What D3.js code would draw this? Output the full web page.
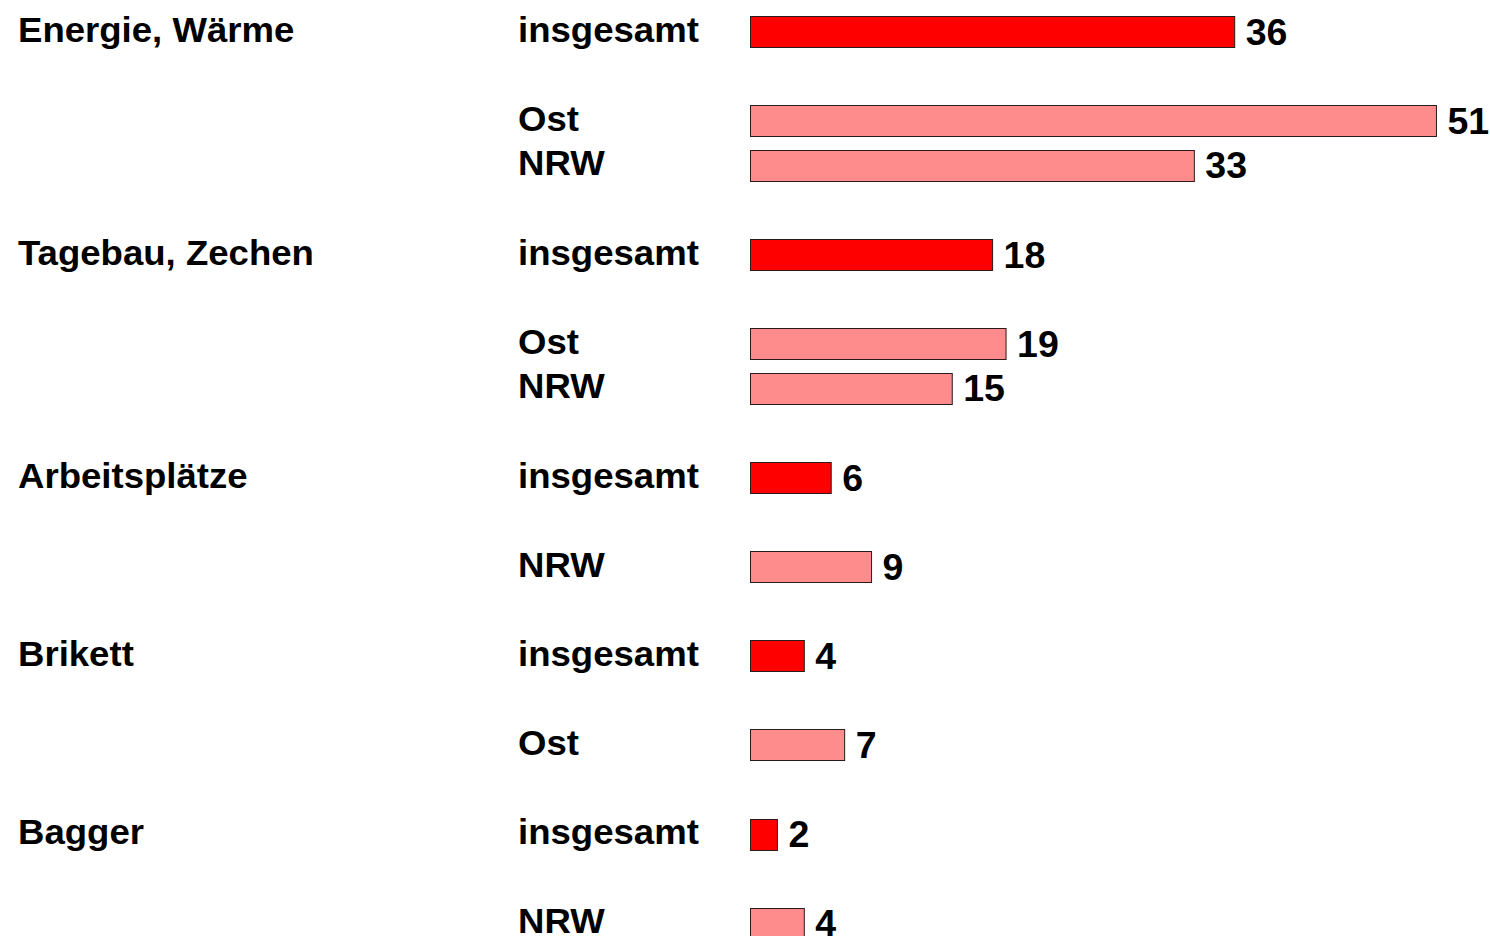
<!DOCTYPE html>
<html>
<head>
<meta charset="utf-8">
<script src="https://cdn.jsdelivr.net/npm/d3@7"></script>
<style>
  html, body { margin: 0; padding: 0; background: #ffffff; overflow: hidden; }
  svg { display: block; }
  text { font-family: "Liberation Sans", Arial, Helvetica, sans-serif; font-weight: bold; fill: #000; }
</style>
</head>
<body>
<script>
// ---- data ----
const categories = ["Energie, Wärme", "Tagebau, Zechen", "Arbeitsplätze", "Brikett", "Bagger"];
const totalLabel = "insgesamt";
const totals = [36, 18, 6, 4, 2];
const regionNames = [["Ost", "NRW"], ["Ost", "NRW"], ["NRW"], ["Ost"], ["NRW"]];
const regionValues = [[51, 33], [19, 15], [9], [7], [4]];

// ---- build rows (slot order: total, blank, regions..., blank) ----
const rows = [];
let slot = 0;
categories.forEach((cat, i) => {
  rows.push({ cat, group: totalLabel, value: totals[i], total: true, slot });
  slot += 2;
  regionNames[i].forEach((r, j) => {
    rows.push({ cat: null, group: r, value: regionValues[i][j], total: false, slot });
    slot += 1;
  });
  slot += 1;
});
const nSlots = slot - 1;

const W = 1490, H = 936;
const svg = d3.select("body").append("svg").attr("width", W).attr("height", H);

const x = d3.scaleLinear().domain([0, 55]).range([750.5, 750.5 + 55 * 13.45]);
const y = d3.scaleBand().domain(d3.range(nSlots)).range([16, 939]).paddingInner(0.3).paddingOuter(0);

const labelSize = 35, labelStretch = 1.045, valueSize = 37.5;

// bars
svg.selectAll("rect.bar").data(rows).join("rect")
  .attr("class", "bar")
  .attr("x", x(0))
  .attr("y", d => Math.round(y(d.slot)) + 0.5)
  .attr("width", d => x(d.value) - x(0))
  .attr("height", Math.round(y.bandwidth()))
  .attr("fill", d => d.total ? "#ff0000" : "#ff8c8c")
  .attr("stroke", "#2a1a1a")
  .attr("stroke-width", 1);

// category labels
svg.selectAll("text.cat").data(rows.filter(d => d.cat)).join("text")
  .attr("class", "cat")
  .attr("transform", d => `translate(18,${y(d.slot) + y.bandwidth() / 2 + 10}) scale(${labelStretch},1)`)
  .style("font-size", labelSize + "px")
  .text(d => d.cat);

// group labels
svg.selectAll("text.grp").data(rows).join("text")
  .attr("class", "grp")
  .attr("transform", d => `translate(518,${y(d.slot) + y.bandwidth() / 2 + 10}) scale(${labelStretch},1)`)
  .style("font-size", labelSize + "px")
  .text(d => d.group);

// value labels
svg.selectAll("text.val").data(rows).join("text")
  .attr("class", "val")
  .attr("x", d => x(d.value) + 11)
  .attr("y", d => y(d.slot) + y.bandwidth() / 2 + 13)
  .style("font-size", valueSize + "px")
  .text(d => d.value);
</script>
</body>
</html>
